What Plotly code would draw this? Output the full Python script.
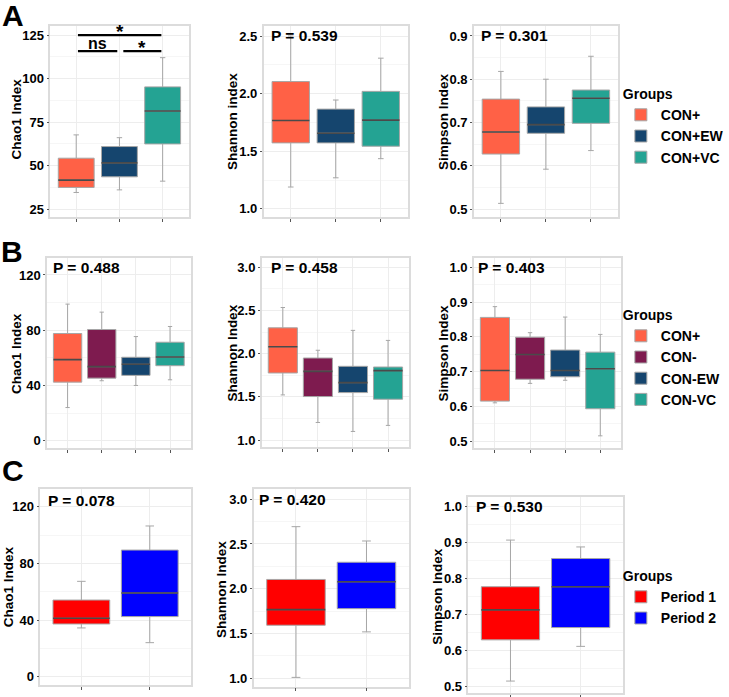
import plotly.graph_objects as go

W, H = 729, 697

# ---------------- data (5-number summaries: lower whisker, Q1, median, Q3, upper whisker)
groups_A = ["CON+", "CON+EW", "CON+VC"]
groups_B = ["CON+", "CON-", "CON-EW", "CON-VC"]
groups_C = ["Period 1", "Period 2"]

colors_A = ["#FF6146", "#15456E", "#24A393"]
colors_B = ["#FF6146", "#7E1B4F", "#15456E", "#24A393"]
colors_C = ["#FF0000", "#0000FF"]

chao1_A = [(34.5, 37.4, 41.6, 54.2, 67.6), (36.0, 43.5, 51.5, 60.9, 66.0), (41.0, 62.4, 81.3, 95.2, 112.0)]
shannon_A = [(1.19, 1.573, 1.767, 2.105, 2.50), (1.27, 1.573, 1.657, 1.866, 1.945), (1.436, 1.544, 1.77, 2.02, 2.308)]
simpson_A = [(0.513, 0.627, 0.678, 0.754, 0.818), (0.592, 0.675, 0.695, 0.736, 0.80), (0.635, 0.698, 0.756, 0.775, 0.853)]

chao1_B = [(24.0, 42.4, 58.7, 77.6, 98.9), (43.4, 45.3, 53.6, 80.5, 93.1), (40.0, 47.3, 55.3, 60.4, 75.4), (44.1, 54.3, 60.6, 71.3, 82.7)]
shannon_B = [(1.523, 1.777, 2.081, 2.30, 2.535), (1.204, 1.504, 1.796, 1.95, 2.04), (1.10, 1.55, 1.665, 1.854, 2.27), (1.17, 1.473, 1.804, 1.846, 2.154)]
simpson_B = [(0.61, 0.615, 0.703, 0.856, 0.887), (0.666, 0.678, 0.749, 0.799, 0.812), (0.675, 0.685, 0.703, 0.762, 0.857), (0.515, 0.593, 0.708, 0.756, 0.807)]

chao1_C = [(34.4, 37.2, 41.2, 54.1, 67.3), (24.0, 42.4, 59.1, 89.4, 106.4)]
shannon_C = [(1.011, 1.593, 1.767, 2.104, 2.693), (1.519, 1.778, 2.078, 2.296, 2.533)]
simpson_C = [(0.516, 0.63, 0.713, 0.777, 0.906), (0.612, 0.664, 0.777, 0.855, 0.887)]

p_values = ["P = 0.539", "P = 0.301", "P = 0.488", "P = 0.458", "P = 0.403", "P = 0.078", "P = 0.420", "P = 0.530"]

# significance brackets for panel A Chao1: (x start, x end, y level, label)
sig_A = [(0.04, 1.97, 125.0, "*"), (0.04, 0.95, 115.8, "ns"), (1.09, 1.97, 115.8, "*")]

# ---------------- layout geometry (pixels)
panels = [
    (chao1_A, groups_A, colors_A, "legend", 52, 195, 26, 217, [20.4, 130.2], [25, 50, 75, 100, 125], "d", 12.5, "Chao1 Index", 17, 119),
    (shannon_A, groups_A, colors_A, "legend", 272.7, 421.7, 26, 217, [0.93, 2.587], [1.0, 1.5, 2.0, 2.5], ".1f", 0.25, "Shannon index", 240.5, 121.5),
    (simpson_A, groups_A, colors_A, "legend", 490, 639, 26, 217, [0.4815, 0.923], [0.5, 0.6, 0.7, 0.8, 0.9], ".1f", 0.05, "Simpson Index", 458.5, 121.5),
    (chao1_B, groups_B, colors_B, "legend2", 48.7, 197, 258, 448, [-5.3, 132.3], [0, 40, 80, 120], "d", 20, "Chao1 Index", 16.5, 353),
    (shannon_B, groups_B, colors_B, "legend2", 270.7, 423, 258, 447, [0.92, 3.108], [1.0, 1.5, 2.0, 2.5, 3.0], ".1f", 0.25, "Shannon Index", 239.5, 353),
    (simpson_B, groups_B, colors_B, "legend2", 490, 642.5, 258, 448, [0.48, 1.027], [0.5, 0.6, 0.7, 0.8, 0.9, 1.0], ".1f", 0.05, "Simpson Index", 458.5, 353),
    (chao1_C, groups_C, colors_C, "legend3", 41.7, 197.3, 489.3, 685, [-5.9, 132.3], [0, 40, 80, 120], "d", 20, "Chao1 Index", 8.5, 587),
    (shannon_C, groups_C, colors_C, "legend3", 262.3, 422.7, 489.3, 686.7, [0.907, 3.11], [1.0, 1.5, 2.0, 2.5, 3.0], ".1f", 0.25, "Shannon Index", 228.5, 589),
    (simpson_C, groups_C, colors_C, "legend3", 484.3, 644, 496.7, 693, [0.483, 1.026], [0.5, 0.6, 0.7, 0.8, 0.9, 1.0], ".1f", 0.05, "Simpson Index", 451.5, 596),
]

p_pos = [(278, 36), (495.7, 36), (52.3, 267.5), (277.7, 267.5), (492.3, 267.5), (47.7, 500), (265.7, 499), (490, 506)]

BOX_W = 0.83
FONT = "Liberation Sans"

fig = go.Figure()
layout = dict(width=W, height=H, margin=dict(l=0, r=0, t=0, b=0),
              paper_bgcolor="white", plot_bgcolor="white", showlegend=True)
annotations = []

for k, (data, groups, cols, leg, x0, x1, y0, y1, yr, tv, fmt, mdt, ytitle, tx, ty) in enumerate(panels):
    n = k + 1
    xa = "x" if n == 1 else f"x{n}"
    ya = "y" if n == 1 else f"y{n}"
    xkey = "xaxis" if n == 1 else f"xaxis{n}"
    ykey = "yaxis" if n == 1 else f"yaxis{n}"
    ng = len(groups)
    for i, (g, c, st) in enumerate(zip(groups, cols, data)):
        lo, q1, med, q3, hi = st
        fig.add_trace(go.Box(
            x=[i], q1=[q1], median=[med], q3=[q3], lowerfence=[lo], upperfence=[hi],
            width=BOX_W, whiskerwidth=0.15, fillcolor=c,
            line=dict(color="#A6A6A6", width=1), boxpoints=False,
            name=g, legend=leg, showlegend=(k % 3 == 0), legendgroup=f"{leg}_{g}",
            xaxis=xa, yaxis=ya, hoverinfo="skip"))
        fig.add_trace(go.Scatter(
            x=[i - BOX_W / 2, i + BOX_W / 2], y=[med, med], mode="lines",
            line=dict(color="#4A4A4A", width=1.6), showlegend=False,
            xaxis=xa, yaxis=ya, hoverinfo="skip"))
    layout[xkey] = dict(domain=[x0 / W, x1 / W], anchor=ya, range=[-0.6, ng - 0.4],
                        tickvals=list(range(ng)), showticklabels=False,
                        showgrid=True, gridcolor="#EDEDED", gridwidth=1, zeroline=False,
                        showline=True, mirror=True, linecolor="#DCDCDC", linewidth=1.5,
                        ticks="outside", ticklen=3, tickcolor="#555555", tickwidth=1)
    layout[ykey] = dict(domain=[1 - y1 / H, 1 - y0 / H], anchor=xa, range=yr,
                        tickvals=tv, tickformat=fmt,
                        tickfont=dict(family=FONT, size=13, color="black", weight="bold"),
                        showgrid=True, gridcolor="#EDEDED", gridwidth=1, zeroline=False,
                        minor=dict(showgrid=True, gridcolor="#F6F6F6", dtick=mdt, tick0=tv[0]),
                        showline=True, mirror=True, linecolor="#DCDCDC", linewidth=1.5,
                        ticks="outside", ticklen=2, tickcolor="#555555", tickwidth=1)
    annotations.append(dict(text=ytitle, x=tx / W, y=1 - ty / H, xref="paper", yref="paper",
                            showarrow=False, textangle=-90, xanchor="center", yanchor="middle",
                            font=dict(family=FONT, size=13.5, color="black", weight="bold")))

# P values
for txt, (px, py) in zip(p_values, p_pos):
    annotations.append(dict(text=txt, x=px / W, y=1 - py / H, xref="paper", yref="paper",
                            showarrow=False, xanchor="left", yanchor="middle",
                            font=dict(family=FONT, size=15.5, color="black", weight="bold")))

# significance brackets (panel A1, data coordinates)
for xs, xe, yl, lab in sig_A:
    fig.add_trace(go.Scatter(x=[xs, xe], y=[yl, yl], mode="lines",
                             line=dict(color="black", width=2.2), showlegend=False,
                             xaxis="x", yaxis="y", hoverinfo="skip"))
    annotations.append(dict(text=lab, x=(xs + xe) / 2, y=yl, xref="x", yref="y",
                            showarrow=False, xanchor="center", yanchor="bottom",
                            yshift=(-9 if lab == "*" else -3),
                            font=dict(family=FONT, size=(19 if lab == "*" else 16), color="black", weight="bold")))

# panel letters
for lab, lx, ly in [("A", 13, 16), ("B", 12, 251), ("C", 13.5, 470)]:
    annotations.append(dict(text=lab, x=lx / W, y=1 - ly / H, xref="paper", yref="paper",
                            showarrow=False, xanchor="center", yanchor="middle",
                            font=dict(family=FONT, size=30, color="black", weight="bold")))

leg_font = dict(family=FONT, size=14, color="black", weight="bold")
for key, ly in [("legend", 81), ("legend2", 302), ("legend3", 563)]:
    layout[key] = dict(x=642 / W, xanchor="left", y=1 - ly / H, yanchor="top",
                       bgcolor="rgba(0,0,0,0)", font=leg_font, tracegroupgap=0,
                       title=dict(text="Groups", font=leg_font), itemclick=False)

layout["annotations"] = annotations
fig.update_layout(**layout)
fig.write_html("out.html")
